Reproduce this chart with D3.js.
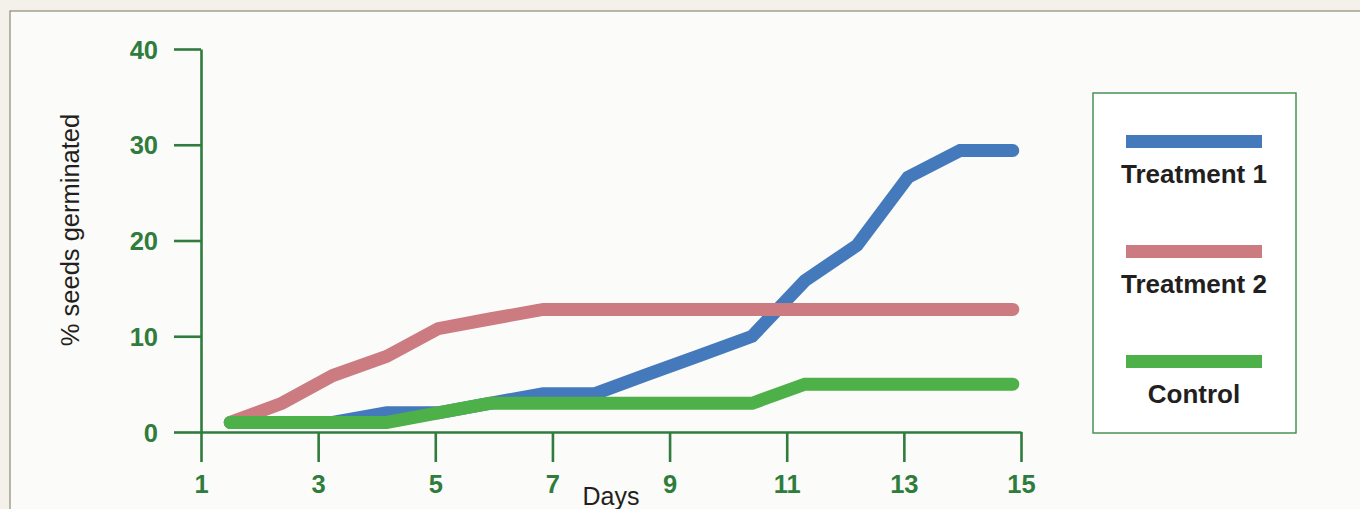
<!DOCTYPE html>
<html lang="en">
    <head>
        <meta charset="utf-8">
        <title>Seed germination</title>
        <script type="text/javascript" src="https://cdn.jsdelivr.net/npm/d3@7"></script>
        <style>
          html, body { margin: 0; padding: 0; background: #f3f1e9; overflow: hidden; }
          svg { display: block; }
        </style>
    </head>
    <body>

        <script type="text/javascript">
          // Days (x position of each reading)
          var days = [1.5, 2.38, 3.25, 4.17, 5.05, 5.93, 6.84, 7.73, 8.61, 9.52, 10.41, 11.31, 12.2, 13.07, 13.96, 14.86];

          // % seeds germinated per series
          var treatment1 = [1, 1, 1, 2, 2, 3, 4, 4, 6, 8, 10, 15.8, 19.5, 26.6, 29.4, 29.4];
          var treatment2 = [1, 3, 5.9, 7.9, 10.8, 11.8, 12.8, 12.8, 12.8, 12.8, 12.8, 12.8, 12.8, 12.8, 12.8, 12.8];
          var control    = [1, 1, 1, 1, 2, 3, 3, 3, 3, 3, 3, 5, 5, 5, 5, 5];

          var xTicks = [1, 3, 5, 7, 9, 11, 13, 15];
          var yTicks = [0, 10, 20, 30, 40];

          var seriesNames  = ["Treatment 1", "Treatment 2", "Control"];
          var seriesColors = ["#4479bb", "#cc7b80", "#4eb048"];

          var w = 1360;
          var h = 509;
          var axisColor = "#2f7c3c";

          var svg = d3.select("body")
            .append("svg")
            .attr("width", w)
            .attr("height", h);

          // the white panel
          svg.append("rect")
            .attr("x", 10)
            .attr("y", 11)
            .attr("width", w)
            .attr("height", h)
            .attr("fill", "#fbfbf9")
            .attr("stroke", "#8f8a74")
            .attr("stroke-width", 1.2);

          var x = d3.scaleLinear().domain([1, 15]).range([201, 1021]);
          var y = d3.scaleLinear().domain([0, 40]).range([432, 49]);

          // y axis
          var yAxis = svg.append("g")
            .attr("transform", "translate(201,0)")
            .call(d3.axisLeft(y).tickValues(yTicks).tickSize(27).tickSizeOuter(0).tickPadding(16));

          // x axis
          var xAxis = svg.append("g")
            .attr("transform", "translate(0,432)")
            .call(d3.axisBottom(x).tickValues(xTicks).tickSize(30).tickSizeOuter(0).tickPadding(13));

          [yAxis, xAxis].forEach(function(a) {
            a.select(".domain").attr("stroke", axisColor).attr("stroke-width", 2.6);
            a.selectAll(".tick line").attr("stroke", axisColor).attr("stroke-width", 2.6);
            a.selectAll(".tick text")
              .attr("fill", axisColor)
              .attr("font-family", "'Liberation Sans', Arial, Helvetica, sans-serif")
              .attr("font-weight", "bold")
              .attr("font-size", "25.5px");
          });
          yAxis.selectAll(".tick text").attr("dy", "0.36em");

          // axis titles
          svg.append("text")
            .text("Days")
            .attr("x", 611)
            .attr("y", 505)
            .attr("text-anchor", "middle")
            .attr("font-family", "'Liberation Sans', Arial, Helvetica, sans-serif")
            .attr("font-size", "25px")
            .attr("fill", "#231f20");

          svg.append("text")
            .text("% seeds germinated")
            .attr("transform", "translate(79,230) rotate(-90)")
            .attr("text-anchor", "middle")
            .attr("font-family", "'Liberation Sans', Arial, Helvetica, sans-serif")
            .attr("font-size", "25.5px")
            .attr("fill", "#231f20");

          // lines: blue under pink, green on top
          var line = d3.line()
            .x(function(d, i) { return x(days[i]); })
            .y(function(d) { return y(d); });

          var seriesData = [treatment1, treatment2, control];
          svg.selectAll("path.series")
            .data(seriesData)
            .enter()
            .append("path")
            .attr("class", "series")
            .attr("d", line)
            .attr("fill", "none")
            .attr("stroke", function(d, i) { return seriesColors[i]; })
            .attr("stroke-width", 13)
            .attr("stroke-linecap", "round")
            .attr("stroke-linejoin", "miter");

          // legend
          var legend = svg.append("g");
          legend.append("rect")
            .attr("x", 1093)
            .attr("y", 93)
            .attr("width", 203)
            .attr("height", 340)
            .attr("fill", "#ffffff")
            .attr("stroke", "#3f8a4b")
            .attr("stroke-width", 1.4);

          var items = legend.selectAll("g.item")
            .data(seriesNames)
            .enter()
            .append("g")
            .attr("class", "item")
            .attr("transform", function(d, i) { return "translate(0," + (i * 110) + ")"; });

          items.append("rect")
            .attr("x", 1126)
            .attr("y", 135)
            .attr("width", 136)
            .attr("height", 13)
            .attr("fill", function(d, i) { return seriesColors[i]; });

          items.append("text")
            .text(function(d) { return d; })
            .attr("x", 1194)
            .attr("y", 183)
            .attr("text-anchor", "middle")
            .attr("font-family", "'Liberation Sans', Arial, Helvetica, sans-serif")
            .attr("font-weight", "bold")
            .attr("font-size", "26px")
            .attr("fill", "#231f20");

        </script>
    </body>
</html>
